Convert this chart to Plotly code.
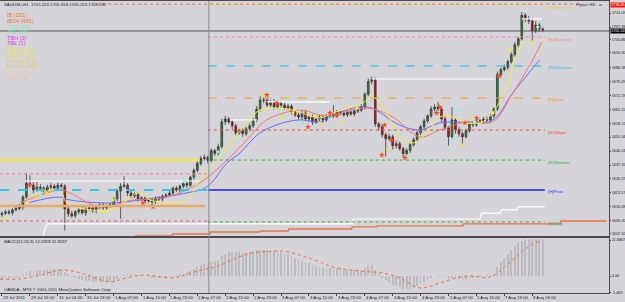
import plotly.graph_objects as go

W, H = 625, 302
FONT = "Liberation Sans"

# ---------------- data ----------------
close = [
    1612.8, 1613.5, 1613.0, 1614.5, 1615.2, 1616.0, 1621.0, 1628.0, 1627.0, 1624.5,
    1626.0, 1625.5, 1624.0, 1626.0, 1626.5, 1625.5, 1627.0, 1626.5, 1615.0, 1612.5,
    1611.5, 1613.5, 1614.5, 1613.0, 1615.0, 1615.5, 1614.0, 1616.0, 1617.0, 1615.5,
    1616.5, 1617.0, 1620.0, 1624.0, 1626.5, 1627.0, 1623.0, 1621.5, 1622.5, 1620.0,
    1620.5, 1619.0, 1619.5, 1618.5, 1620.5, 1620.0, 1621.5, 1622.0, 1623.0, 1625.5,
    1624.5, 1626.5, 1628.0, 1627.0, 1631.0, 1634.5, 1638.0, 1640.5, 1641.0, 1639.5,
    1644.5, 1643.0, 1646.5, 1659.0, 1660.5, 1659.0, 1657.0, 1653.5, 1654.5, 1653.0,
    1655.5, 1657.0, 1660.0, 1665.5, 1670.0, 1670.0, 1667.5, 1669.0, 1666.5, 1668.5,
    1667.5, 1666.0, 1667.0, 1664.0, 1662.5, 1661.5, 1663.5, 1660.5, 1661.5, 1659.0,
    1660.5, 1661.5, 1660.0, 1662.0, 1663.0, 1662.0, 1664.0, 1663.5, 1662.5, 1664.0,
    1663.0, 1664.5, 1665.0, 1666.5, 1673.0, 1679.5, 1680.5, 1658.0, 1656.5, 1652.5,
    1650.5, 1651.5, 1647.0, 1648.0, 1645.5, 1643.0, 1644.5, 1647.5, 1650.0, 1653.5,
    1656.5, 1659.5, 1662.0, 1665.5, 1666.5, 1665.5, 1660.5, 1656.0, 1651.5, 1660.0,
    1655.0, 1653.0, 1651.5, 1654.5, 1658.0, 1657.5, 1659.5, 1659.5, 1660.5, 1660.0,
    1662.0, 1665.5, 1683.0, 1685.5, 1686.5, 1689.5, 1693.0, 1698.0, 1701.0, 1713.0,
    1711.0, 1710.0, 1705.0, 1708.0, 1706.0, 1705.5]
first_open = 1612.0
wick_up = [
    0.8, 1.0, 1.2, 0.8, 1.0, 1.5, 1.0, 5.0, 4.0, 1.5,
    2.5, 1.5, 1.0, 1.2, 1.5, 1.0, 1.2, 1.0, 1.0, 1.0,
    1.5, 0.8, 1.0, 1.5, 0.8, 1.0, 1.2, 0.8, 1.0, 1.2,
    0.8, 1.0, 1.0, 1.2, 1.5, 4.5, 1.0, 1.2, 0.8, 1.0,
    0.8, 1.0, 0.8, 1.2, 0.8, 1.0, 0.8, 1.0, 1.2, 0.8,
    1.0, 0.8, 1.2, 1.0, 0.8, 1.0, 1.5, 1.2, 1.5, 1.0,
    1.2, 1.0, 1.5, 1.5, 1.5, 1.0, 1.2, 1.0, 1.0, 1.5,
    1.0, 1.2, 1.0, 1.5, 2.0, 1.5, 1.5, 1.2, 1.5, 1.0,
    1.0, 1.5, 1.2, 1.0, 1.0, 1.2, 1.0, 1.5, 1.0, 1.2,
    1.0, 1.0, 1.2, 1.0, 1.5, 4.5, 1.0, 1.2, 1.0, 1.0,
    1.2, 1.0, 1.0, 1.5, 1.0, 1.5, 1.5, 1.0, 1.0, 1.5,
    1.0, 1.5, 1.0, 1.5, 1.0, 1.0, 1.2, 1.0, 1.2, 1.0,
    1.0, 1.2, 1.0, 1.5, 1.5, 2.5, 1.0, 1.5, 1.0, 6.5,
    1.0, 1.5, 1.0, 1.0, 1.2, 1.0, 1.2, 1.0, 1.0, 1.2,
    1.0, 1.0, 1.5, 1.0, 1.5, 1.0, 1.2, 1.5, 1.0, 1.6,
    1.0, 1.5, 1.5, 2.0, 1.0, 0.8]
wick_dn = [
    1.0, 0.8, 1.0, 1.2, 0.8, 1.0, 1.5, 1.0, 1.0, 1.5,
    1.0, 1.2, 1.5, 1.0, 1.2, 1.0, 1.0, 1.2, 11.0, 1.5,
    1.0, 1.0, 1.2, 1.0, 1.5, 1.0, 1.0, 1.2, 1.0, 1.0,
    1.2, 1.0, 1.0, 1.2, 14.0, 1.0, 1.5, 1.0, 1.0, 1.2,
    1.0, 1.2, 1.0, 1.5, 1.0, 1.0, 1.2, 1.0, 1.0, 1.2,
    1.0, 1.2, 1.0, 1.5, 1.0, 1.2, 1.0, 1.2, 1.0, 1.5,
    1.0, 1.2, 1.0, 1.0, 1.5, 1.0, 1.5, 1.2, 1.0, 1.5,
    1.0, 1.2, 1.0, 1.0, 1.2, 1.5, 1.0, 1.0, 1.2, 1.0,
    1.2, 1.0, 1.0, 1.5, 1.0, 1.2, 1.5, 1.0, 1.2, 1.5,
    1.0, 1.2, 1.5, 1.0, 1.0, 1.2, 1.0, 1.2, 1.0, 1.0,
    1.0, 1.2, 1.0, 1.0, 1.2, 1.0, 1.5, 1.5, 2.0, 1.5,
    9.0, 1.0, 2.0, 1.5, 1.0, 2.0, 1.0, 1.2, 1.0, 1.0,
    1.2, 1.0, 1.0, 1.0, 1.2, 1.0, 1.5, 1.0, 4.5, 1.0,
    2.0, 1.5, 4.0, 1.0, 1.0, 1.2, 1.0, 1.0, 1.2, 1.0,
    1.0, 1.2, 1.0, 1.5, 1.0, 1.2, 1.0, 1.0, 1.2, 1.0,
    1.5, 1.5, 6.0, 1.0, 1.5, 1.0]

bars = list(range(len(close)))
open_ = [first_open] + close[:-1]
high = [max(o, c) + w for o, c, w in zip(open_, close, wick_up)]
low = [min(o, c) - w for o, c, w in zip(open_, close, wick_dn)]

# moving averages
ma_fast_bar = [8.0, 16.6, 18.6, 30.9, 39.5, 42.4, 53.0, 56.7, 62.5, 66.2, 73.9, 77.7, 83.4, 91.1, 94.8,
               103.4, 106.3, 110.3, 114.0, 117.8, 121.8, 125.5, 129.2, 133.2, 137.0, 140.7, 144.7, 147.0, 149.3]
ma_fast_val = [1621.0, 1624.6, 1618.0, 1614.5, 1623.1, 1619.5, 1619.5, 1629.6, 1641.3, 1649.9, 1665.0, 1666.0,
               1665.0, 1661.0, 1663.5, 1668.6, 1671.6, 1663.5, 1651.4, 1648.4, 1653.4, 1661.5, 1661.5, 1658.5,
               1658.5, 1663.5, 1677.7, 1690.3, 1700.4]
ma_mid_bar = [5.2, 16.6, 19.5, 28.1, 37.5, 47.3, 56.7, 64.5, 70.2, 75.9, 85.4, 91.1, 94.8, 104.6, 112.0,
              119.8, 125.5, 133.2, 140.7, 146.4, 152.1, 154.7]
ma_mid_val = [1618.0, 1624.6, 1623.1, 1616.0, 1619.5, 1621.0, 1628.1, 1639.7, 1649.9, 1660.0, 1665.0, 1662.5,
              1662.5, 1666.0, 1661.5, 1651.4, 1654.9, 1659.0, 1659.0, 1673.6, 1690.3, 1699.4]
ma_slow_bar = [7.2, 16.6, 19.5, 30.9, 39.5, 53.0, 58.7, 64.5, 68.2, 73.9, 80.5, 85.4, 91.1, 94.8, 104.6,
               114.0, 119.8, 125.5, 133.2, 140.7, 146.4, 154.1]
ma_slow_val = [1618.0, 1621.0, 1619.5, 1618.0, 1619.5, 1623.1, 1626.1, 1638.2, 1643.3, 1653.4, 1658.5, 1660.0,
               1659.0, 1662.5, 1666.6, 1657.4, 1654.9, 1658.5, 1659.0, 1660.0, 1673.6, 1690.3]

# pattern markers
star_bar = [8.0, 11.7, 40.4, 43.3, 75.9, 78.8, 87.7, 94.0, 96.0, 108.9, 109.7, 111.7, 115.5, 124.6, 125.5,
            132.7, 136.1, 142.4]
star_val = [1627.1, 1624.6, 1618.0, 1616.0, 1672.6, 1668.6, 1656.4, 1663.5, 1662.5, 1642.3, 1657.4, 1649.9,
            1640.8, 1663.5, 1666.6, 1658.5, 1661.0, 1682.2]
ydot_bar = [0.9, 7.4, 10.0, 12.9, 29.5, 31.8, 74.8, 80.2, 81.9, 83.4, 91.1, 97.7, 98.9, 101.7, 110.6, 131.8,
            134.7, 140.7, 145.6, 151.9]
ydot_val = [1610.4, 1618.0, 1620.5, 1622.6, 1613.4, 1619.5, 1672.6, 1661.0, 1671.6, 1663.5, 1658.5, 1659.0,
            1666.0, 1666.0, 1644.8, 1647.3, 1661.0, 1663.5, 1695.4, 1699.4]
adot_bar = [10.9, 52.4, 61.9, 86.0, 123.5, 128.9, 130.4, 135.5, 153.6]
adot_val = [1622.1, 1628.6, 1643.8, 1658.9, 1654.9, 1649.9, 1665.0, 1659.0, 1707.0]

# step lines (range high / range low / trend line)
hi_step_bar = [6.6, 56.7, None, 65.3, 73.1, None, 75.9, 94.0, None, 106.0, 141.3, None, 149.0, 154.7]
hi_step_val = [1629.1, 1629.1, None, 1660.0, 1660.0, None, 1669.1, 1669.1, None, 1680.7, 1680.7, None, 1711.1, 1711.1]
lo_step_bar = [11.7, 12.9, 100.6, 100.6, 137.0, 137.5, 142.7, 143.3, 147.6, 147.9, 155.6]
lo_step_val = [1601.3, 1607.4, 1607.4, 1609.9, 1609.9, 1612.9, 1612.9, 1614.5, 1614.5, 1616.0, 1616.0]
tr_step_bar = [38.1, 48.7, 48.9, 59.6, 59.8, 73.9, 74.1, 82.0, 82.2, 100.2, 100.4, 107.4, 107.6, 132.1, 132.3,
               160.0, 160.2, 173.4]
tr_step_val = [1601.3, 1601.3, 1602.3, 1602.3, 1603.3, 1603.3, 1603.8, 1603.8, 1604.8, 1604.8, 1605.9, 1605.9,
               1606.4, 1606.4, 1607.4, 1607.4, 1608.9, 1608.9]

# pivot levels
right_levels = [1718.1, 1701.95, 1687.3, 1671.1, 1654.9, 1639.7, 1624.6, 1608.4]
right_names = ["[R3]Extreme", "[R2]Extreme", "[R1]Ultimate", "[P]Major", "[S1]Major", "[S2]Bottom",
               "[H]Pivot", "[S3]Top"]
right_span = [59.0, 155.6]
left_levels = [1639.7, 1632.7, 1624.6, 1616.5, 1608.9]
left_span_end = [56.7, 59.0, 59.0, 58.2, 59.0]
left_span_start = -0.57
day_sep_bar = 59.3
bid = 1705.0
alert_level = 1718.1

# MACD
macd_hist = [
    -1.2, -1.0, -0.9, -0.8, -0.6, -0.4, 0.3, 1.2, 1.6, 1.7,
    1.9, 2.0, 2.1, 2.0, 2.1, 2.2, 2.2, 2.2, 1.2, 0.4,
    -0.3, -0.7, -1.0, -1.3, -1.5, -1.7, -1.9, -2.0, -2.0, -2.1,
    -2.1, -2.0, -1.6, -0.9, -0.2, 0.3, 0.4, 0.4, 0.5, 0.3,
    0.2, 0.0, -0.2, -0.4, -0.5, -0.5, -0.5, -0.4, -0.2, 0.1,
    0.3, 0.6, 1.0, 1.2, 1.7, 2.3, 3.0, 3.6, 4.0, 4.2,
    4.6, 4.8, 5.2, 6.5, 7.3, 7.7, 7.9, 7.8, 7.7, 7.6,
    7.7, 7.9, 8.1, 8.4, 8.6, 8.6, 8.5, 8.4, 8.2, 8.0,
    7.7, 7.4, 7.0, 6.5, 6.0, 5.5, 5.0, 4.5, 4.1, 3.6,
    3.3, 3.0, 2.7, 2.6, 2.5, 2.3, 2.3, 2.2, 2.0, 2.0,
    1.9, 1.9, 1.9, 2.0, 2.5, 3.2, 3.6, 1.8, 0.8, -0.4,
    -1.3, -1.9, -2.8, -3.2, -3.7, -4.2, -4.3, -4.1, -3.8, -3.3,
    -2.7, -2.0, -1.3, -0.5, 0.0, 0.3, 0.1, -0.3, -0.9, -0.6,
    -0.8, -1.0, -1.2, -1.0, -0.7, -0.5, -0.3, -0.2, 0.0, 0.1,
    0.3, 0.7, 2.8, 4.6, 6.0, 7.3, 8.5, 9.7, 10.7, 11.5,
    11.9, 12.1, 12.1, 12.1, 12.1, 12.09]
sig_bar = [-0.6, 5, 11, 16.6, 22.3, 31, 35, 40.4, 45, 49, 56.7, 61.6, 68.2, 72, 76.8, 80.5, 85.4, 91, 94.8,
           99.7, 104.6, 109, 114, 119.8, 126.4, 133.2, 140, 144.7, 150.4, 154.7]
sig_val = [-1.0, -1.0, 0.3, 1.9, 1.1, -1.9, -0.8, 0.3, -0.2, -0.6, 1.8, 3.1, 6.3, 7.5, 8.0, 8.1, 6.8, 4.6, 2.9,
           2.0, 1.4, 1.0, -0.6, -3.9, -1.9, 0.0, -0.3, 3.6, 9.1, 11.8]

# axis labels
time_label_bar = [0, 8, 16, 24, 32, 40, 48, 56, 64, 72, 80, 88, 96, 104, 112, 120, 128, 136, 144, 152]
time_labels = ["29 Jul 2011", "29 Jul 16:00", "31 Jul 04:00", "31 Jul 23:00", "1 Aug 07:00", "1 Aug 15:00",
               "1 Aug 23:00", "2 Aug 07:00", "2 Aug 15:00", "2 Aug 23:00", "3 Aug 07:00", "3 Aug 15:00",
               "3 Aug 23:00", "4 Aug 07:00", "4 Aug 15:00", "4 Aug 23:00", "5 Aug 07:00", "5 Aug 15:00",
               "7 Aug 19:00", "8 Aug 03:00"]
price_ticks = [1714.09, 1707.00, 1700.86, 1693.90, 1686.38, 1679.29, 1672.19, 1665.11, 1658.22, 1651.34,
               1644.24, 1637.15, 1630.27, 1623.17, 1616.28, 1609.20, 1602.32]
price_tick_text = ["1714.09", "1707.98", "1700.86", "1693.90", "1686.38", "1679.29", "1672.19", "1665.11",
                   "1658.22", "1651.34", "1644.24", "1637.15", "1630.27", "1623.17", "1616.28", "1609.20",
                   "1602.32"]
macd_ticks = [11.6867, 0.0, -5.465]
macd_tick_text = ["11.6867", "0.00", "-5.465"]

legend_names = ["IB (231)", "IBS4 (465)", "TSH (25)", "TSL (24)", "TBH (3)", "TBL (1)", "DBHLC (0)",
                "DBLHC (0)", "Pin Up (325)", "Pin Dn (437)", "Doji (120)", "Star (96)"]

# ---------------- styles / layout ----------------
BG = "#d5d4d8"
X_RANGE = [-0.57, 174.0]
XDOM = [0, 609 / W]
Y1DOM = [1 - 236 / H, 1 - 1 / H]
Y2DOM = [1 - 293 / H, 1 - 238 / H]
SMALL = 3.8

fig = go.Figure()

fig.add_trace(go.Candlestick(
    x=bars, open=open_, high=high, low=low, close=close,
    increasing=dict(fillcolor="#2a8c2a", line=dict(color="#3a3a3a", width=0.8)),
    decreasing=dict(fillcolor="#e00000", line=dict(color="#3a3a3a", width=0.8)),
    whiskerwidth=0, xaxis="x", yaxis="y", showlegend=False, hoverinfo="skip"))

# step lines
fig.add_trace(go.Scatter(x=hi_step_bar, y=hi_step_val, mode="lines", line=dict(color="#ffffff", width=1.2),
                         xaxis="x", yaxis="y", showlegend=False, hoverinfo="skip"))
fig.add_trace(go.Scatter(x=lo_step_bar, y=lo_step_val, mode="lines", line=dict(color="#ffffff", width=1.2),
                         xaxis="x", yaxis="y", showlegend=False, hoverinfo="skip"))
fig.add_trace(go.Scatter(x=tr_step_bar, y=tr_step_val, mode="lines", line=dict(color="#e8704a", width=1.4),
                         xaxis="x", yaxis="y", showlegend=False, hoverinfo="skip"))

# MAs
for bx, vy, col in [(ma_slow_bar, ma_slow_val, "#6a6aff"), (ma_mid_bar, ma_mid_val, "#f07a66"),
                    (ma_fast_bar, ma_fast_val, "#f4f040")]:
    fig.add_trace(go.Scatter(x=bx, y=vy, mode="lines", line=dict(color=col, width=1, shape="spline"),
                             xaxis="x", yaxis="y", showlegend=False, hoverinfo="skip"))

# markers
fig.add_trace(go.Scatter(x=ydot_bar, y=ydot_val, mode="markers",
                         marker=dict(symbol="circle", size=3.5, color="#f0e060", line=dict(width=0)),
                         xaxis="x", yaxis="y", showlegend=False, hoverinfo="skip"))
fig.add_trace(go.Scatter(x=adot_bar, y=adot_val, mode="markers",
                         marker=dict(symbol="circle", size=3.5, color="#90f0e0", line=dict(width=0)),
                         xaxis="x", yaxis="y", showlegend=False, hoverinfo="skip"))
fig.add_trace(go.Scatter(x=star_bar, y=star_val, mode="markers",
                         marker=dict(symbol="star", size=4.5, color="#ff4a20", line=dict(width=0)),
                         xaxis="x", yaxis="y", showlegend=False, hoverinfo="skip"))

# MACD
fig.add_trace(go.Bar(x=bars, y=macd_hist, width=0.22, marker=dict(color="#bcbcc0", line=dict(width=0)),
                     xaxis="x2", yaxis="y2", showlegend=False, hoverinfo="skip"))
fig.add_trace(go.Scatter(x=sig_bar, y=sig_val, mode="lines",
                         line=dict(color="#e8703c", width=1, dash="dot", shape="spline"),
                         xaxis="x2", yaxis="y2", showlegend=False, hoverinfo="skip"))

shapes = []
right_style = [("#e8e040", "dot", 1), ("#f08a96", "dot", 1), ("#20b8ea", "dash", 1), ("#e8a040", "dash", 1),
               ("#e84a40", "dot", 1), ("#40a848", "dot", 1), ("#1a1aff", "solid", 1.5), ("#40a848", "dot", 1)]
right_label_col = ["#e0d030", "#f08a96", "#20b8ea", "#e8a040", "#e84a40", "#40a848", "#3030ff", "#40a848"]
for lv, (c, d, w) in zip(right_levels, right_style):
    shapes.append(dict(type="line", xref="x", yref="y", x0=right_span[0], x1=right_span[1], y0=lv, y1=lv,
                       line=dict(color=c, dash=d, width=w)))
left_style = [("#ecea50", "solid", 2.5), ("#f07a7a", "dot", 1), ("#30c8ea", "dash", 2), ("#e8a866", "solid", 2.5),
              ("#e06060", "dot", 1)]
for lv, x1, (c, d, w) in zip(left_levels, left_span_end, left_style):
    shapes.append(dict(type="line", xref="x", yref="y", x0=left_span_start, x1=x1, y0=lv, y1=lv,
                       line=dict(color=c, dash=d, width=w)))
# red dotted top line over header width
shapes.append(dict(type="line", xref="x", yref="y", x0=27.0, x1=166.5, y0=alert_level + 0.5, y1=alert_level + 0.5,
                   line=dict(color="#e86a6a", dash="dot", width=1)))
# bid line
shapes.append(dict(type="line", xref="x domain", yref="y", x0=0, x1=1, y0=bid, y1=bid,
                   line=dict(color="#555555", width=1)))
# day separator
shapes.append(dict(type="line", xref="x", yref="paper", x0=day_sep_bar, x1=day_sep_bar, y0=Y2DOM[0], y1=Y1DOM[1],
                   line=dict(color="#8a8a8a", width=1)))

ann = []
# header
ann.append(dict(text="XAUUSD,H1  1705.223 1705.359 1705.223 1705.532", x=2 / W, y=1 - 5 / H, xref="paper",
                yref="paper", xanchor="left", yanchor="middle", showarrow=False,
                font=dict(family=FONT, size=4.3, color="#202020")))
legend_cols = ["#f07a30", "#f07a30", "#80e8c8", "#80e8c8", "#e040e0", "#e040e0", "#e8e040", "#e8e040",
               "#e0d060", "#dcc870", "#ecc8a8", "#ecc8a8"]
legend_y = [15, 21, 27, 32, 38, 43, 49, 55, 61, 66, 72, 78]
for name, col, yy in zip(legend_names, legend_cols, legend_y):
    ann.append(dict(text=name, x=5 / W, y=1 - yy / H, xref="paper", yref="paper", xanchor="left",
                    yanchor="middle", showarrow=False, font=dict(family=FONT, size=5.6, color=col)))
# right level labels
for lv, name, col in zip(right_levels, right_names, right_label_col):
    ann.append(dict(text=name, x=right_span[1] + 0.4, y=lv, xref="x", yref="y", xanchor="left",
                    yanchor="middle", yshift=-2, showarrow=False, font=dict(family=FONT, size=4.3, color=col)))
ann.append(dict(text="Pippin HS - w", x=605 / W, y=1 - 5 / H, xref="paper", yref="paper", xanchor="right",
                yanchor="middle", showarrow=False, font=dict(family=FONT, size=4.3, color="#303030")))
# price boxes
ann.append(dict(text="1718.05", x=610 / W, y=alert_level, xref="paper", yref="y", xanchor="left",
                yanchor="middle", showarrow=False, bgcolor="#ff1010", borderpad=0,
                font=dict(family=FONT, size=SMALL, color="#ffffff")))
ann.append(dict(text="1705.53", x=610 / W, y=bid, xref="paper", yref="y", xanchor="left",
                yanchor="middle", showarrow=False, bgcolor="#000000", borderpad=0,
                font=dict(family=FONT, size=SMALL, color="#ffffff")))
# macd title / copyright
ann.append(dict(text="MACD(12,26,9) 12.0928 11.8267", x=2 / W, y=1 - 241 / H, xref="paper", yref="paper",
                xanchor="left", yanchor="middle", showarrow=False, font=dict(family=FONT, size=4.3, color="#202020")))
ann.append(dict(text="OANDA - MT4 \u00a9 2001-2011 MetaQuotes Software Corp.", x=2 / W, y=1 - 289 / H,
                xref="paper", yref="paper", xanchor="left", yanchor="middle", showarrow=False,
                font=dict(family=FONT, size=4.3, color="#202020")))
# time labels
for b, t in zip(time_label_bar, time_labels):
    ann.append(dict(text=t, x=b, y=1 - 297.5 / H, xref="x2", yref="paper", xanchor="left", yanchor="middle",
                    xshift=-1, showarrow=False, font=dict(family=FONT, size=4.3, color="#202020")))

axis_common = dict(showgrid=False, zeroline=False, showline=True, linecolor="#4a4a4a", linewidth=1,
                   mirror=True, automargin=False)
fig.update_layout(
    width=W, height=H, margin=dict(l=0, r=0, t=0, b=0),
    paper_bgcolor=BG, plot_bgcolor=BG, bargap=0, showlegend=False,
    xaxis=dict(domain=XDOM, range=X_RANGE, anchor="y", showticklabels=False, ticks="",
               rangeslider=dict(visible=False), **axis_common),
    xaxis2=dict(domain=XDOM, range=X_RANGE, anchor="y2", matches="x", showticklabels=False,
                tickmode="array", tickvals=time_label_bar, ticks="outside", ticklen=2, tickcolor="#4a4a4a",
                **axis_common),
    yaxis=dict(domain=Y1DOM, range=[1601.29, 1720.16], anchor="x", side="right", tickmode="array",
               tickvals=price_ticks, ticktext=price_tick_text, ticks="outside", ticklen=1, tickcolor="#4a4a4a",
               tickfont=dict(family=FONT, size=SMALL, color="#202020"), **axis_common),
    yaxis2=dict(domain=Y2DOM, range=[-5.52, 12.34], anchor="x2", side="right", tickmode="array",
                tickvals=macd_ticks, ticktext=macd_tick_text, ticks="outside", ticklen=1, tickcolor="#4a4a4a",
                tickfont=dict(family=FONT, size=SMALL, color="#202020"), **axis_common),
    shapes=shapes, annotations=ann,
)

fig.write_html("out.html")
